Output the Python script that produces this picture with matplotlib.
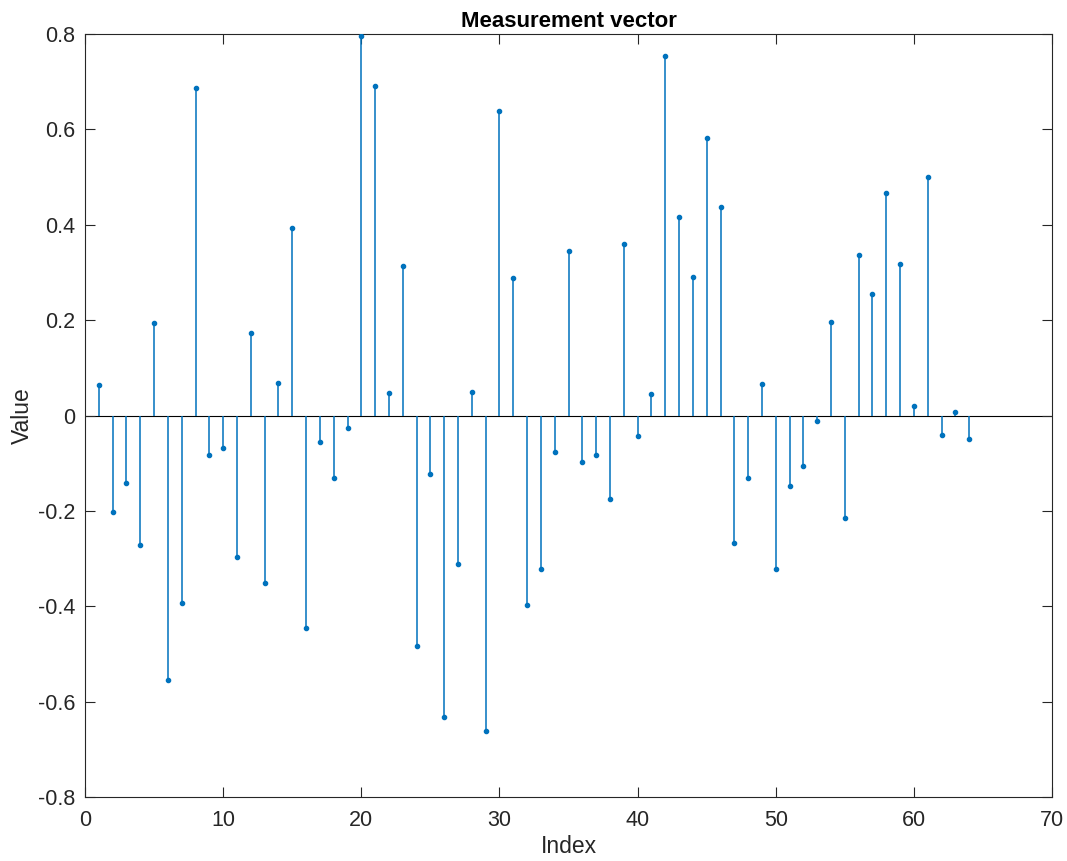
import matplotlib
matplotlib.use('Agg')
import matplotlib.pyplot as plt
import numpy as np

# Measurement vector values, index 1..64
index = np.arange(1, 65)
values = [
    0.065, -0.202, -0.141, -0.271, 0.195, -0.555, -0.393, 0.687,
    -0.082, -0.069, -0.296, 0.172, -0.351, 0.069, 0.393, -0.445,
    -0.055, -0.132, -0.027, 0.796, 0.691, 0.047, 0.313, -0.483,
    -0.122, -0.632, -0.311, 0.050, -0.662, 0.639, 0.288, -0.397,
    -0.321, -0.076, 0.345, -0.097, -0.082, -0.176, 0.359, -0.042,
    0.046, 0.754, 0.416, 0.290, 0.582, 0.437, -0.267, -0.130,
    0.067, -0.321, -0.147, -0.105, -0.011, 0.197, -0.214, 0.336,
    0.254, 0.466, 0.317, 0.021, 0.500, -0.040, 0.008, -0.050,
]

xticks = [0, 10, 20, 30, 40, 50, 60, 70]
yticks = [-0.8, -0.6, -0.4, -0.2, 0, 0.2, 0.4, 0.6, 0.8]
ytick_labels = ['-0.8', '-0.6', '-0.4', '-0.2', '0', '0.2', '0.4', '0.6', '0.8']

plt.rcParams['font.family'] = ['Liberation Sans', 'DejaVu Sans']

fig = plt.figure(figsize=(10.67, 8.61), dpi=100)
ax = fig.add_axes([0.0797, 0.0743, 0.9063, 0.8862])

blue = '#0072BD'
ax.axhline(0, color='black', linewidth=0.8, zorder=1)
ax.vlines(index, 0, values, color=blue, linewidth=1.1, zorder=2)
ax.plot(index, values, 'o', color=blue, markersize=3, zorder=3)

ax.set_xlim(0, 70)
ax.set_ylim(-0.8, 0.8)
ax.set_xticks(xticks)
ax.set_yticks(yticks)
ax.set_yticklabels(ytick_labels)

ax.tick_params(direction='in', top=True, right=True, length=7, width=0.8,
               labelsize=15.5, colors='#262626')
ax.tick_params(axis='x', pad=9)
ax.tick_params(axis='y', pad=7)
for side in ax.spines.values():
    side.set_color('#262626')
    side.set_linewidth(0.8)

ax.set_xlabel('Index', fontsize=16.5, color='#262626', labelpad=3)
ax.set_ylabel('Value', fontsize=16.5, color='#262626', labelpad=3)
ax.set_title('Measurement vector', fontsize=16, fontweight='bold', pad=5)

fig.savefig('out.png', dpi=100)
